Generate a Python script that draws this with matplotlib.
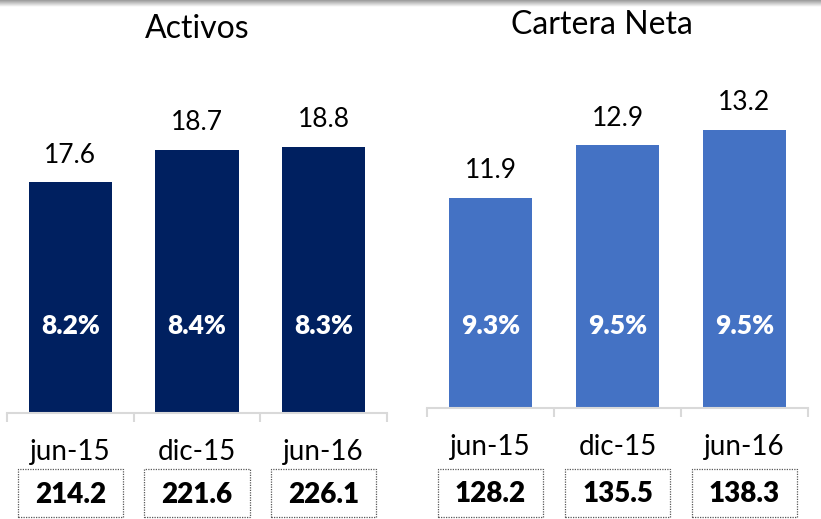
import numpy as np
import matplotlib.pyplot as plt
from matplotlib.patches import Rectangle
from matplotlib.colors import LinearSegmentedColormap
from matplotlib import transforms

plt.rcParams['font.family'] = ['Lato', 'DejaVu Sans']

# datos
periodos = ['jun-15', 'dic-15', 'jun-16']
activos = [17.6, 18.7, 18.8]
activos_pct = ['8.2%', '8.4%', '8.3%']
activos_total = ['214.2', '221.6', '226.1']
cartera = [11.9, 12.9, 13.2]
cartera_pct = ['9.3%', '9.5%', '9.5%']
cartera_total = ['128.2', '135.5', '138.3']

W, H = 821, 519
fig = plt.figure(figsize=(W / 100, H / 100), dpi=100)


def px(x0, y0, x1, y1):
    # caja en pixeles (origen arriba-izquierda) -> rect de figura
    return [x0 / W, 1 - y1 / H, (x1 - x0) / W, (y1 - y0) / H]


def fy(y):
    return 1 - y / H


def panel(rect, valores, pct, totales, color, ylim, y_cat, y_tot):
    ax = fig.add_axes(rect)
    x = np.arange(len(periodos))
    ax.bar(x, valores, width=0.66, color=color)
    ax.set_xlim(-0.5, len(periodos) - 0.5)
    ax.set_ylim(*ylim)
    for s in ['top', 'left', 'right']:
        ax.spines[s].set_visible(False)
    ax.spines['bottom'].set_color('#D9D9D9')
    ax.spines['bottom'].set_linewidth(1.5)
    ax.set_yticks([])
    ax.set_xticks(np.arange(len(periodos) + 1) - 0.5)
    ax.set_xticklabels([])
    ax.tick_params(axis='x', color='#D9D9D9', width=1.5, length=6.5)

    tr = transforms.blended_transform_factory(ax.transData, fig.transFigure)
    for xi, v, p, t, cat in zip(x, valores, pct, totales, periodos):
        ax.annotate(f'{v:.1f}', (xi, v), xytext=(0, 14), textcoords='offset points',
                    ha='center', va='baseline', fontsize=19)
        ax.text(xi, fy(326), p, transform=tr, ha='center', va='center',
                color='white', fontsize=19, fontweight='heavy')
        ax.text(xi, fy(y_cat), cat, transform=tr, ha='center', va='center',
                fontsize=20)
        ax.add_patch(Rectangle((xi - 0.415, fy(517)), 0.83, 48 / H, transform=tr,
                               fill=False, edgecolor='#595959', linewidth=0.9,
                               linestyle=(0, (1, 1)), clip_on=False))
        ax.text(xi, fy(y_tot), t, transform=tr, ha='center', va='center',
                fontsize=20, fontweight='heavy')
    return ax


panel(px(7, 53, 387, 413), activos, activos_pct, activos_total, '#002060',
      (9.8, 21.96), 452, 495)
panel(px(427, 53, 808, 408), cartera, cartera_pct, cartera_total, '#4472C4',
      (7.9, 14.66), 447, 494)

fig.text(197 / W, fy(29), 'Activos', ha='center', va='center', fontsize=23)
fig.text(602 / W, fy(25), 'Cartera Neta', ha='center', va='center', fontsize=23)

# sombra gris arriba
top = fig.add_axes([0, 1 - 7 / H, 1, 7 / H])
cmap = LinearSegmentedColormap.from_list('sombra', ['#9A9A9A', '#FFFFFF'])
top.imshow(np.linspace(0, 1, 20)[:, None], cmap=cmap, aspect='auto')
top.axis('off')

fig.savefig('out.png', dpi=100)
